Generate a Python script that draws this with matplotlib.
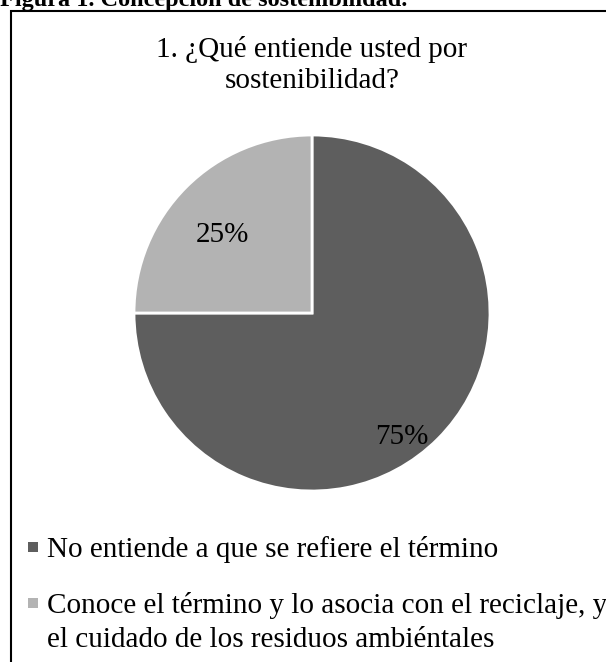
import numpy as np
import matplotlib.pyplot as plt
from matplotlib.patches import Rectangle

plt.rcParams['font.family'] = ['Liberation Serif', 'DejaVu Serif']

title = ['1. ¿Qué entiende usted por', 'sostenibilidad?']
labels = ['No entiende a que se refiere el término',
          'Conoce el término y lo asocia con el reciclaje, y\nel cuidado de los residuos ambiéntales']
values = [75, 25]
colors = ['#5e5e5e', '#b3b3b3']

W, H = 606, 662
FS = 21
fig = plt.figure(figsize=(W / 100, H / 100), dpi=100)


def px(x, y):
    # pixel position (from top-left) -> figure fraction
    return x / W, 1 - y / H


# caption above the frame (cut by the top edge)
fig.text(*px(0, 6), 'Figura 1. Concepción de sostenibilidad.',
         fontsize=17.5, fontweight='bold', ha='left', va='baseline')

# chart frame
fig.patches.append(Rectangle((10.5 / W, -0.1), 1.2, 1 - 10.5 / H + 0.1,
                             transform=fig.transFigure, fill=False,
                             edgecolor='black', linewidth=1.5))

for i, line in enumerate(title):
    fig.text(*px(312, 57 + 31 * i), line, fontsize=FS, ha='center',
             va='baseline')

cx, cy, r = 312, 313, 178
ax = fig.add_axes([(cx - r) / W, (H - cy - r) / H, 2 * r / W, 2 * r / H])
wedges, _ = ax.pie(values, colors=colors, startangle=90, counterclock=False,
                   wedgeprops=dict(edgecolor='white', linewidth=2))
ax.set_xlim(-1, 1)
ax.set_ylim(-1, 1)
ax.set_aspect('equal')

# value labels placed by (radius, angle)
label_pos = [(0.86, -54), (0.67, 139)]
for v, (rr, ang) in zip(values, label_pos):
    a = np.radians(ang)
    ax.text(rr * np.cos(a), rr * np.sin(a), f'{v}%', fontsize=FS,
            ha='center', va='center')

# legend: square marker lined up with the first line of each label
baselines = [557, 613]
for lab, col, base in zip(labels, colors, baselines):
    x0, y0 = px(28, base - 5)
    fig.patches.append(Rectangle((x0, y0), 10 / W, 10 / H,
                                 transform=fig.transFigure,
                                 facecolor=col, edgecolor='none'))
    for i, line in enumerate(lab.split('\n')):
        fig.text(*px(47, base + 34 * i), line, fontsize=FS,
                 ha='left', va='baseline')

fig.savefig('out.png', dpi=100)
